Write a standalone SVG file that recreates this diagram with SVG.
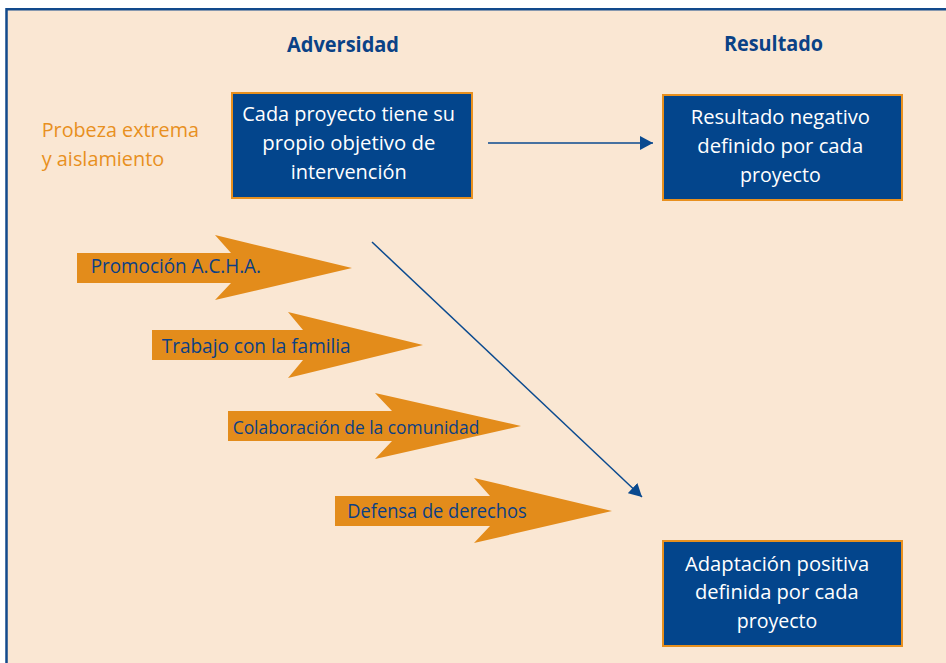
<svg xmlns="http://www.w3.org/2000/svg" width="946" height="663" viewBox="0 0 946 663">
<style>
.bg{fill:#fae7d3}
.frame{fill:none;stroke:#124a8c;stroke-width:2.5}
.box{fill:#03458c;stroke:#e8901e;stroke-width:2}
.boxt{font-family:"Open Sans","Noto Sans","DejaVu Sans",sans-serif;font-size:20px;fill:#ffffff}
.head{font-family:"Open Sans","Noto Sans","DejaVu Sans",sans-serif;font-size:21.5px;font-weight:bold;fill:#0a4286}
.orange{font-family:"Open Sans","Noto Sans","DejaVu Sans",sans-serif;font-size:20.5px;fill:#e8901e}
.arr{fill:#e38c1b}
.arrt{font-family:"Open Sans","Noto Sans","DejaVu Sans",sans-serif;font-size:20px;fill:#0b3f85}
.arrt.sm{font-size:17.5px}
.conn{stroke:#0a4a8f;stroke-width:1.5;fill:none}
</style>
<defs>
<marker id="ah" markerUnits="userSpaceOnUse" markerWidth="13" markerHeight="14" viewBox="0 0 13 14" refX="13" refY="7" orient="auto">
<path d="M0,0 L13,7 L0,14 z" fill="#0a4a8f"/>
</marker>
</defs>
<rect x="0" y="0" width="946" height="663" fill="#ffffff"/>
<rect class="bg" x="6" y="9" width="940" height="654"/>
<path class="frame" d="M6.5,663 V9.2 H946"/>

<g id="header-adversidad"><text class="head" x="287" y="51.5" textLength="112" lengthAdjust="spacingAndGlyphs">Adversidad</text></g>
<g id="header-resultado"><text class="head" x="724" y="51" textLength="99" lengthAdjust="spacingAndGlyphs">Resultado</text></g>

<g id="probeza">
<text class="orange" x="41.7" y="136.7" textLength="157.3" lengthAdjust="spacingAndGlyphs">Probeza extrema</text>
<text class="orange" x="41.7" y="165.7" textLength="122.6" lengthAdjust="spacingAndGlyphs">y aislamiento</text>
</g>

<g id="box-objetivo">
<rect class="box" x="232" y="93" width="240" height="105"/>
<text class="boxt" x="242.3" y="120.7" textLength="212.7" lengthAdjust="spacingAndGlyphs">Cada proyecto tiene su</text>
<text class="boxt" x="262.3" y="150" textLength="173" lengthAdjust="spacingAndGlyphs">propio objetivo de</text>
<text class="boxt" x="290.7" y="179" textLength="116" lengthAdjust="spacingAndGlyphs">intervención</text>
</g>

<g id="box-negativo">
<rect class="box" x="663" y="95" width="239" height="105"/>
<text class="boxt" x="690.7" y="124" textLength="179.3" lengthAdjust="spacingAndGlyphs">Resultado negativo</text>
<text class="boxt" x="697.3" y="152.7" textLength="166" lengthAdjust="spacingAndGlyphs">definido por cada</text>
<text class="boxt" x="740" y="181.5" textLength="80.7" lengthAdjust="spacingAndGlyphs">proyecto</text>
</g>

<g id="box-positiva">
<rect class="box" x="663" y="541" width="239" height="105"/>
<text class="boxt" x="685" y="571" textLength="184.3" lengthAdjust="spacingAndGlyphs">Adaptación positiva</text>
<text class="boxt" x="695" y="599.3" textLength="163.7" lengthAdjust="spacingAndGlyphs">definida por cada</text>
<text class="boxt" x="736.7" y="627.7" textLength="80.6" lengthAdjust="spacingAndGlyphs">proyecto</text>
</g>

<g id="arrow-promocion">
<polygon class="arr" points="77,253 231,253 215,235 352,268 215,300 231,283 77,283"/>
<text class="arrt" x="90.7" y="273.3" textLength="170.3" lengthAdjust="spacingAndGlyphs">Promoción A.C.H.A.</text>
</g>
<g id="arrow-familia">
<polygon class="arr" points="152,330 303,330 288,312 423,345 288,378 303,360 152,360"/>
<text class="arrt" x="161.7" y="353.3" textLength="189" lengthAdjust="spacingAndGlyphs">Trabajo con la familia</text>
</g>
<g id="arrow-comunidad">
<polygon class="arr" points="228,411 392,411 375,393 521,426 375,459 392,441 228,441"/>
<text class="arrt sm" x="232.7" y="434" textLength="246.6" lengthAdjust="spacingAndGlyphs">Colaboración de la comunidad</text>
</g>
<g id="arrow-derechos">
<polygon class="arr" points="335,496 490,496 474,478 612,511 474,543 490,526 335,526"/>
<text class="arrt" x="347.3" y="518.3" textLength="179.4" lengthAdjust="spacingAndGlyphs">Defensa de derechos</text>
</g>

<g id="connectors">
<line class="conn" x1="488" y1="143" x2="653" y2="143" marker-end="url(#ah)"/>
<line class="conn" x1="372" y1="242" x2="642" y2="497" marker-end="url(#ah)"/>
</g>
</svg>
